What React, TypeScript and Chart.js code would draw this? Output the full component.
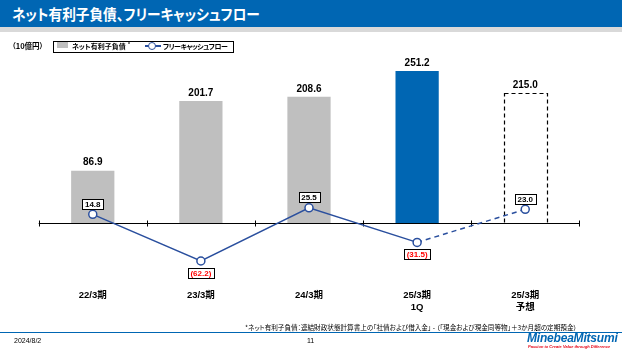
import React, { useEffect, useRef } from 'react';
import { Chart, registerables } from 'chart.js';

Chart.register(...registerables);

const categories: string[][] = [['22/3期'], ['23/3期'], ['24/3期'], ['25/3期', '1Q'], ['25/3期', '予想']];
const netDebt = [86.9, 201.7, 208.6, 251.2, 215.0];
const freeCashFlow = [14.8, -62.2, 25.5, -31.5, 23.0];
const barColors = ['#bfbfbf', '#bfbfbf', '#bfbfbf', '#0066b3', 'rgba(0,0,0,0)'];
const forecastIndex = 4;
const yMin = -100;
const yMax = 280;

const BLUE = '#0066b3';
const LINE = '#2a4f9e';
const LATIN = "'Liberation Sans', Arial, 'Noto Sans CJK JP', sans-serif";
const JP = "'Noto Sans CJK JP', 'Liberation Sans', sans-serif";

const fmt = (v: number) => (v < 0 ? `(${Math.abs(v).toFixed(1)})` : v.toFixed(1));

const overlay = {
  id: 'overlay',
  afterDatasetDraw(chart: any, args: any) {
    if (args.index !== 0) return;
    const ctx = chart.ctx;
    const y = chart.scales.y;
    const { left, right } = chart.chartArea;
    const y0 = Math.round(y.getPixelForValue(0)) + 0.5;
    ctx.save();
    // forecast bar dashed outline
    const fb = chart.getDatasetMeta(0).data[forecastIndex];
    const p = fb.getProps(['x', 'y', 'base', 'width'], true);
    ctx.setLineDash([4, 3]);
    ctx.strokeStyle = '#000';
    ctx.lineWidth = 1.2;
    ctx.strokeRect(Math.round(p.x - p.width / 2) + 0.5, Math.round(p.y) + 0.5, Math.round(p.width), Math.round(p.base - p.y));
    ctx.setLineDash([]);
    // zero axis
    ctx.strokeStyle = '#000';
    ctx.lineWidth = 1;
    ctx.beginPath();
    ctx.moveTo(left, y0);
    ctx.lineTo(right, y0);
    const n = categories.length;
    for (let i = 0; i <= n; i++) {
      const tx = Math.round(left + ((right - left) * i) / n) + 0.5;
      ctx.moveTo(tx, y0 - 3);
      ctx.lineTo(tx, y0 + 3);
    }
    ctx.stroke();
    ctx.restore();
  },
  afterDatasetsDraw(chart: any) {
    const ctx = chart.ctx;
    ctx.save();
    ctx.textAlign = 'center';
    ctx.textBaseline = 'middle';
    // bar labels
    ctx.font = `bold 10px ${LATIN}`;
    ctx.fillStyle = '#000';
    chart.getDatasetMeta(0).data.forEach((bar: any, i: number) => {
      ctx.fillText(netDebt[i].toFixed(1), bar.x, bar.y - 8);
    });
    // line labels
    ctx.font = `bold 8px ${LATIN}`;
    chart.getDatasetMeta(1).data.forEach((pt: any, i: number) => {
      const v = freeCashFlow[i];
      const t = fmt(v);
      const w = Math.ceil(ctx.measureText(t).width) + 5;
      const h = 10;
      const cy = v < 0 ? pt.y + 12 : pt.y - 10.5;
      const bx = Math.round(pt.x - w / 2) + 0.5;
      const by = Math.round(cy - h / 2) + 0.5;
      ctx.fillStyle = '#fff';
      ctx.fillRect(bx, by, w, h);
      ctx.strokeStyle = '#000';
      ctx.lineWidth = 1;
      ctx.strokeRect(bx, by, w, h);
      ctx.fillStyle = v < 0 ? '#ff0000' : '#000';
      ctx.fillText(t, pt.x, cy + 0.5);
    });
    ctx.restore();
  },
};

function ChartCanvas() {
  const ref = useRef<HTMLCanvasElement | null>(null);
  useEffect(() => {
    if (!ref.current) return;
    const chart = new Chart(ref.current, {
      type: 'bar',
      data: {
        labels: categories,
        datasets: [
          {
            type: 'bar',
            label: 'ネット有利子負債',
            data: netDebt,
            backgroundColor: barColors,
            borderWidth: 0,
            barPercentage: 0.4,
            categoryPercentage: 1,
            order: 1,
          },
          {
            type: 'line',
            label: 'フリーキャッシュフロー',
            data: freeCashFlow,
            borderColor: LINE,
            borderWidth: 1.5,
            pointRadius: 4,
            pointBorderWidth: 1.5,
            pointBackgroundColor: '#fff',
            pointBorderColor: LINE,
            tension: 0,
            order: 0,
            segment: {
              borderDash: (c: any) => (c.p1DataIndex === forecastIndex ? [5, 4] : undefined),
            },
          } as any,
        ],
      },
      options: {
        responsive: false,
        animation: false,
        layout: { padding: { left: 38.7, right: 42.7, top: 53.6, bottom: 31.3 } },
        plugins: { legend: { display: false }, tooltip: { enabled: false } },
        scales: {
          x: {
            grid: { display: false, drawTicks: false },
            border: { display: false },
            ticks: {
              padding: 6,
              color: '#000',
              font: { family: LATIN, size: 9.5, weight: 'bold', lineHeight: 1.2 },
              maxRotation: 0,
              autoSkip: false,
            },
          },
          y: { display: false, min: yMin, max: yMax },
        },
      },
      plugins: [overlay],
    });
    return () => chart.destroy();
  }, []);
  return <canvas ref={ref} width={622} height={350} style={{ position: 'absolute', left: 0, top: 0 }} />;
}

export default function App() {
  const abs = (s: React.CSSProperties): React.CSSProperties => ({ position: 'absolute', whiteSpace: 'nowrap', ...s });
  return (
    <div style={{ position: 'fixed', left: 0, top: 0, width: 622, height: 350, background: '#fff', overflow: 'hidden' }}>
      <ChartCanvas />
      <div style={abs({ left: 0, top: 0, width: 622, height: 27, background: BLUE })} />
      <div style={abs({ left: 0, top: 27, width: 622, height: 5, background: '#d9d9d9' })} />
      <div style={abs({ left: 12, top: 0, height: 27, lineHeight: '27px', color: '#fff', fontFamily: JP, fontWeight: 700, fontSize: 15, fontFeatureSettings: '"palt"', transform: 'scaleX(0.91)', transformOrigin: 'left center' })}>
        ネット有利子負債、フリーキャッシュフロー
      </div>
      <div style={abs({ left: 12, top: 40, lineHeight: '12px', fontFamily: JP, fontWeight: 700, fontSize: 7.5, fontFeatureSettings: '"palt"' })}>
        （10億円）
      </div>
      <div style={abs({ left: 53, top: 41, width: 179, height: 10, border: '1px solid #000', boxSizing: 'content-box' })} />
      <div style={abs({ left: 57, top: 42, width: 11, height: 6, background: '#bfbfbf' })} />
      <div style={abs({ left: 72, top: 39.5, lineHeight: '12px', fontFamily: JP, fontWeight: 700, fontSize: 7, fontFeatureSettings: '"palt"' })}>
        ネット有利子負債<sup style={{ fontSize: 5, verticalAlign: 'top', lineHeight: '8px', marginLeft: 2 }}>*</sup>
      </div>
      <div style={abs({ left: 145, top: 45, width: 16, height: 2, background: LINE })} />
      <div style={abs({ left: 148, top: 42, width: 6, height: 6, borderRadius: 5, border: `1.5px solid ${LINE}`, background: '#fff' })} />
      <div style={abs({ left: 163, top: 39.5, lineHeight: '12px', fontFamily: JP, fontWeight: 700, fontSize: 7, letterSpacing: -0.5, fontFeatureSettings: '"palt"' })}>
        フリーキャッシュフロー
      </div>
      <div style={abs({ left: 245, top: 323, lineHeight: '8px', fontFamily: JP, fontSize: 6.6, fontFeatureSettings: '"palt"' })}>
        *ネット有利子負債：連結財政状態計算書上の「社債および借入金」 - （「現金および現金同等物」＋3か月超の定期預金）
      </div>
      <div style={abs({ left: 0, top: 331.5, width: 622, height: 1.5, background: BLUE })} />
      <div style={abs({ left: 14, top: 336, lineHeight: '10px', fontFamily: LATIN, fontSize: 7 })}>2024/8/2</div>
      <div style={abs({ left: 307, top: 336, lineHeight: '10px', fontFamily: LATIN, fontSize: 7 })}>11</div>
      <div style={abs({ left: 527, top: 332, lineHeight: '12px', fontFamily: LATIN, fontSize: 12, fontWeight: 700, fontStyle: 'italic', color: BLUE, letterSpacing: -0.2 })}>
        MinebeaMitsumi
      </div>
      <div style={abs({ left: 528, top: 344, lineHeight: '5px', fontFamily: LATIN, fontSize: 4, fontWeight: 700, fontStyle: 'italic', color: '#e60012' })}>
        Passion to Create Value through Difference
      </div>
    </div>
  );
}
